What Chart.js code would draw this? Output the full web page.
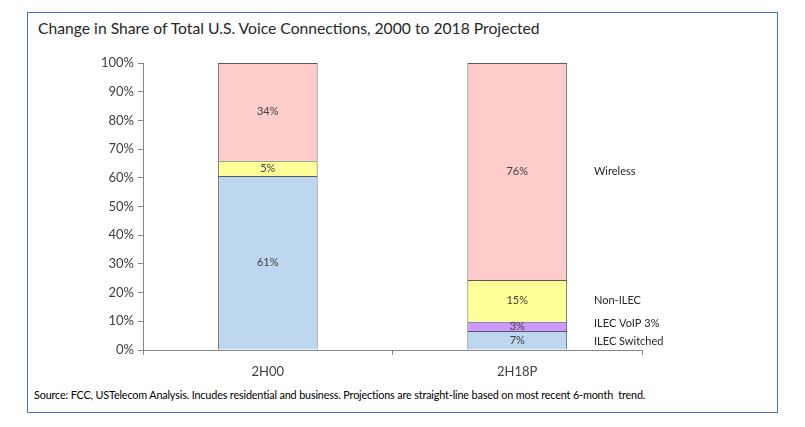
<!DOCTYPE html>
<html>
<head>
<meta charset="utf-8">
<script src="https://cdn.jsdelivr.net/npm/chart.js@4"></script>
<style>
  body { margin: 0; background: #fff; font-family: Lato, "Open Sans", sans-serif; }
  #frame { position: absolute; left: 27px; top: 12px; width: 749px; height: 399px; border: 1px solid #4472c4; }
  #title { position: absolute; left: 38px; top: 19px; font-size: 15.7px; color: #262626; }
  #source { position: absolute; left: 34px; top: 388px; font-size: 10.8px; color: #000; letter-spacing: -0.15px; }
  #wrap { position: absolute; left: 0; top: 0; width: 805px; height: 427px; }
</style>
</head>
<body>
<div id="frame"></div>
<div id="title">Change in Share of Total U.S. Voice Connections, 2000 to 2018 Projected</div>
<div id="source">Source: FCC, USTelecom Analysis. Incudes residential and business. Projections are straight-line based on most recent 6-month&nbsp; trend.</div>
<div id="wrap"><canvas id="chart"></canvas></div>
<script>
// categorias e series (em %)
const periodos = ['2H00', '2H18P'];
const nomesSeries = ['ILEC Switched', 'ILEC VoIP 3%', 'Non-ILEC', 'Wireless'];
const ilecSwitched = [60.6, 6.6];
const ilecVoip = [0, 3.2];
const nonIlec = [5.3, 14.6];
const wireless = [34.1, 75.6];
const cores = ['#bdd7ee', '#cc99ff', '#ffff99', '#ffcccc'];
const ticksY = [0, 10, 20, 30, 40, 50, 60, 70, 80, 90, 100];

document.addEventListener('DOMContentLoaded', () => {
    const ctx = document.getElementById('chart').getContext('2d');
    const valores = [ilecSwitched, ilecVoip, nonIlec, wireless];

    // rotulos de valor dentro das barras
    const rotulosValor = {
        id: 'rotulosValor',
        afterDatasetsDraw(chart) {
            const c = chart.ctx;
            c.save();
            c.font = '11px Lato, "Open Sans", sans-serif';
            c.fillStyle = '#404040';
            c.textAlign = 'center';
            c.textBaseline = 'middle';
            chart.data.datasets.forEach((ds, i) => {
                chart.getDatasetMeta(i).data.forEach((bar, j) => {
                    const v = ds.data[j];
                    if (!v) return;
                    const y = (bar.y + bar.base) / 2;
                    c.fillText(Math.round(v) + '%', bar.x, y);
                });
            });
            c.restore();
        }
    };

    // nomes das series a direita da ultima barra
    const nomesDireita = {
        id: 'nomesDireita',
        afterDatasetsDraw(chart) {
            const c = chart.ctx;
            const ultimo = periodos.length - 1;
            const ajuste = [1, -3, 0, 0];
            c.save();
            c.font = '11px Lato, "Open Sans", sans-serif';
            c.fillStyle = '#262626';
            c.textAlign = 'left';
            c.textBaseline = 'middle';
            chart.data.datasets.forEach((ds, i) => {
                const bar = chart.getDatasetMeta(i).data[ultimo];
                const y = (bar.y + bar.base) / 2 + ajuste[i];
                c.fillText(ds.label, 594, y);
            });
            c.restore();
        }
    };

    new Chart(ctx, {
        type: 'bar',
        data: {
            labels: periodos,
            datasets: nomesSeries.map((nome, i) => ({
                label: nome,
                data: valores[i],
                backgroundColor: cores[i],
                borderColor: '#595959',
                // sem borda quando o segmento tem valor zero
                borderWidth: (c) => (c.raw ? 1 : 0),
                borderSkipped: 'start',
                categoryPercentage: 0.8,
                barPercentage: 0.5
            }))
        },
        options: {
            responsive: true,
            maintainAspectRatio: false,
            animation: false,
            layout: { padding: { left: 83, right: 163, top: 63, bottom: 47 } },
            plugins: {
                legend: { display: false },
                tooltip: { enabled: false }
            },
            scales: {
                x: {
                    stacked: true,
                    afterFit: (s) => { s.height = 30; },
                    grid: { drawOnChartArea: false, offset: true, tickLength: 5, color: '#868686' },
                    border: { color: '#868686' },
                    ticks: { color: '#404040', font: { size: 13, family: 'Lato, "Open Sans", sans-serif' }, padding: 9 }
                },
                y: {
                    stacked: true,
                    min: 0,
                    max: 100,
                    afterFit: (s) => { s.width = 60; },
                    afterBuildTicks: (s) => { s.ticks = ticksY.map(v => ({ value: v })); },
                    grid: { drawOnChartArea: false, tickLength: 5, color: '#868686' },
                    border: { color: '#868686' },
                    ticks: {
                        color: '#404040',
                        font: { size: 13, family: 'Lato, "Open Sans", sans-serif' },
                        padding: 4,
                        callback: (v) => v + '%'
                    }
                }
            }
        },
        plugins: [rotulosValor, nomesDireita]
    });
});
</script>
</body>
</html>
